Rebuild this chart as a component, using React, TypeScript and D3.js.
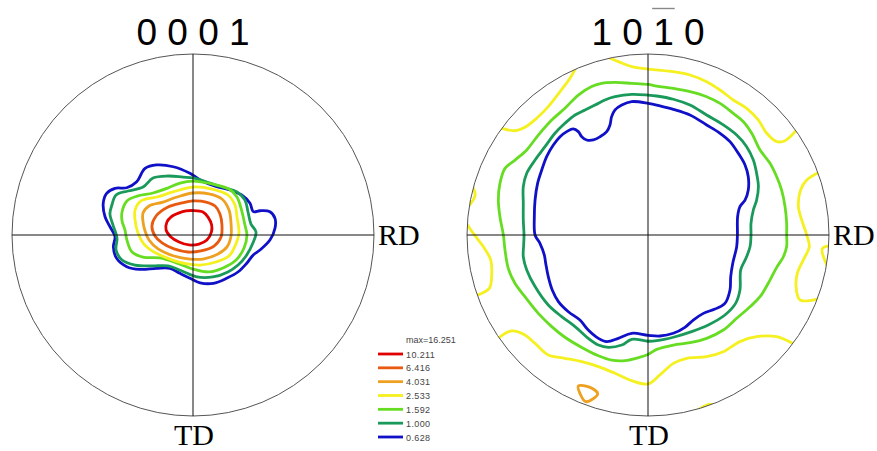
import { useEffect, useRef } from "react";
import * as d3 from "d3";

type Pt = [number, number];

// ---------------------------------------------------------------------------
// Contour levels (multiples of random density)
// ---------------------------------------------------------------------------

const MAX_DENSITY = 16.251;
const LEVELS = [10.211, 6.416, 4.031, 2.533, 1.592, 1.0, 0.628];
const LEVEL_COLORS = ["#e00000", "#e85a10", "#eea020", "#f5f020", "#66dd22", "#1a9a5a", "#1010c8"];

// Pole figure coordinates: x -> RD, y -> TD (down), unit circle = projection edge

// ---- {0001} basal ----
const BASAL_10211: Pt[] = [
  [0, -0.135], [0.055, -0.127], [0.083, -0.099], [0.103, -0.055], [0.102, -0.017],
  [0.077, 0.028], [0.033, 0.05], [-0.022, 0.055], [-0.077, 0.039], [-0.122, 0.011],
  [-0.149, -0.028], [-0.144, -0.072], [-0.122, -0.099], [-0.077, -0.122], [-0.039, -0.133],
];
const BASAL_6416: Pt[] = [
  [-0.227, -0.05], [-0.204, -0.105], [-0.138, -0.155], [-0.061, -0.177], [0, -0.188],
  [0.072, -0.182], [0.122, -0.16], [0.149, -0.116], [0.16, -0.055], [0.155, 0.011],
  [0.116, 0.061], [0.044, 0.088], [-0.028, 0.094], [-0.105, 0.077], [-0.171, 0.044],
  [-0.21, 0.006],
];
const BASAL_4031: Pt[] = [
  [-0.276, -0.072], [-0.276, -0.122], [-0.243, -0.16], [-0.166, -0.182], [-0.088, -0.21],
  [0, -0.232], [0.088, -0.227], [0.16, -0.199], [0.199, -0.138], [0.21, -0.066],
  [0.21, 0.006], [0.188, 0.066], [0.138, 0.105], [0.055, 0.133], [-0.017, 0.133],
  [-0.105, 0.116], [-0.193, 0.077], [-0.243, 0.028], [-0.265, -0.022],
];
const BASAL_2533: Pt[] = [
  [-0.32, -0.083], [-0.32, -0.138], [-0.287, -0.188], [-0.199, -0.21], [-0.11, -0.238],
  [0, -0.265], [0.105, -0.254], [0.193, -0.221], [0.232, -0.166], [0.243, -0.099],
  [0.254, -0.011], [0.232, 0.061], [0.199, 0.116], [0.127, 0.149], [0.039, 0.166],
  [-0.033, 0.16], [-0.127, 0.133], [-0.215, 0.094], [-0.271, 0.05], [-0.304, -0.011],
];
const BASAL_1592: Pt[] = [
  [-0.392, -0.127], [-0.365, -0.188], [-0.309, -0.215], [-0.221, -0.232], [-0.138, -0.26],
  [-0.072, -0.287], [0, -0.298], [0.105, -0.282], [0.199, -0.254], [0.243, -0.21],
  [0.271, -0.127], [0.287, -0.055], [0.298, 0], [0.282, 0.072], [0.238, 0.138],
  [0.166, 0.182], [0.088, 0.204], [0, 0.188], [-0.088, 0.155], [-0.182, 0.127],
  [-0.276, 0.122], [-0.337, 0.094], [-0.365, 0.028], [-0.376, -0.028], [-0.392, -0.077],
];
const BASAL_1000: Pt[] = [
  [-0.448, -0.166], [-0.425, -0.221], [-0.359, -0.243], [-0.276, -0.265], [-0.221, -0.315],
  [-0.138, -0.326], [-0.055, -0.32], [0, -0.315], [0.094, -0.287], [0.177, -0.26],
  [0.243, -0.238], [0.287, -0.193], [0.304, -0.127], [0.32, -0.061], [0.348, -0.017],
  [0.331, 0.044], [0.293, 0.116], [0.249, 0.166], [0.193, 0.204], [0.11, 0.232],
  [0.022, 0.232], [-0.061, 0.199], [-0.138, 0.171], [-0.227, 0.171], [-0.32, 0.166],
  [-0.392, 0.138], [-0.425, 0.083], [-0.42, 0.017], [-0.442, -0.055], [-0.459, -0.116],
];
const BASAL_0628: Pt[] = [
  [-0.265, -0.368], [-0.201, -0.387], [-0.109, -0.377], [-0.017, -0.341], [0.057, -0.294],
  [0.131, -0.267], [0.204, -0.249], [0.269, -0.221], [0.315, -0.175], [0.333, -0.129],
  [0.37, -0.134], [0.425, -0.129], [0.453, -0.092], [0.453, -0.037], [0.425, 0.028],
  [0.37, 0.083], [0.333, 0.11], [0.297, 0.156], [0.25, 0.203], [0.186, 0.239],
  [0.112, 0.267], [0.039, 0.264], [-0.017, 0.239], [-0.072, 0.212], [-0.127, 0.184],
  [-0.201, 0.184], [-0.293, 0.19], [-0.366, 0.175], [-0.422, 0.129], [-0.44, 0.065],
  [-0.431, 0.009], [-0.459, -0.046], [-0.486, -0.101], [-0.496, -0.175], [-0.477, -0.23],
  [-0.431, -0.258], [-0.366, -0.261], [-0.311, -0.294],
];

// ---- {10-10} prismatic ----
const PRISM_0628: Pt[] = [
  [0.002, -0.727], [-0.09, -0.737], [-0.145, -0.718], [-0.182, -0.691], [-0.201, -0.654],
  [-0.21, -0.608], [-0.228, -0.571], [-0.265, -0.543], [-0.302, -0.525], [-0.339, -0.525],
  [-0.366, -0.543], [-0.385, -0.571], [-0.413, -0.586], [-0.449, -0.571], [-0.486, -0.543],
  [-0.523, -0.497], [-0.56, -0.433], [-0.587, -0.359], [-0.61, -0.285], [-0.624, -0.193],
  [-0.628, -0.101], [-0.624, 0], [-0.597, 0.046], [-0.573, 0.11], [-0.565, 0.157],
  [-0.551, 0.23], [-0.529, 0.304], [-0.495, 0.368], [-0.44, 0.424], [-0.376, 0.47],
  [-0.33, 0.525], [-0.274, 0.571], [-0.228, 0.589], [-0.164, 0.571], [-0.09, 0.543],
  [0, 0.554], [0.066, 0.558], [0.14, 0.543], [0.204, 0.51], [0.25, 0.47],
  [0.306, 0.433], [0.37, 0.409], [0.425, 0.378], [0.453, 0.304], [0.457, 0.23],
  [0.468, 0.157], [0.49, 0.064], [0.494, 0], [0.495, -0.101], [0.508, -0.157],
  [0.536, -0.193], [0.554, -0.249], [0.554, -0.322], [0.536, -0.387], [0.499, -0.451],
  [0.453, -0.516], [0.398, -0.562], [0.324, -0.608], [0.232, -0.663], [0.14, -0.694],
  [0.066, -0.713],
];
const PRISM_1000: Pt[] = [
  [0, -0.773], [-0.09, -0.777], [-0.182, -0.764], [-0.238, -0.746], [-0.293, -0.718],
  [-0.348, -0.691], [-0.403, -0.663], [-0.459, -0.617], [-0.514, -0.562], [-0.569, -0.488],
  [-0.624, -0.414], [-0.67, -0.341], [-0.689, -0.267], [-0.689, -0.175], [-0.689, -0.083],
  [-0.685, 0], [-0.687, 0.055], [-0.689, 0.12], [-0.67, 0.193], [-0.624, 0.285],
  [-0.551, 0.387], [-0.477, 0.451], [-0.403, 0.506], [-0.33, 0.571], [-0.274, 0.608],
  [-0.219, 0.621], [-0.145, 0.608], [-0.09, 0.576], [0, 0.587], [0.048, 0.584],
  [0.14, 0.565], [0.241, 0.534], [0.333, 0.497], [0.425, 0.442], [0.484, 0.378],
  [0.508, 0.304], [0.512, 0.193], [0.541, 0.129], [0.564, 0.064], [0.569, 0],
  [0.569, -0.064], [0.582, -0.138], [0.6, -0.193], [0.61, -0.267], [0.6, -0.341],
  [0.582, -0.414], [0.545, -0.488], [0.49, -0.552], [0.416, -0.608], [0.324, -0.663],
  [0.232, -0.718], [0.14, -0.75], [0.048, -0.768],
];
const PRISM_1592: Pt[] = [
  [0, -0.832], [-0.09, -0.838], [-0.182, -0.843], [-0.256, -0.838], [-0.311, -0.82],
  [-0.385, -0.773], [-0.459, -0.7], [-0.532, -0.635], [-0.606, -0.552], [-0.67, -0.47],
  [-0.735, -0.414], [-0.79, -0.368], [-0.818, -0.285], [-0.827, -0.193], [-0.818, -0.101],
  [-0.799, 0], [-0.79, 0.083], [-0.772, 0.184], [-0.735, 0.267], [-0.68, 0.341],
  [-0.606, 0.433], [-0.532, 0.506], [-0.459, 0.565], [-0.366, 0.621], [-0.274, 0.667],
  [-0.201, 0.691], [-0.127, 0.694], [-0.053, 0.678], [0, 0.66], [0.048, 0.632],
  [0.14, 0.608], [0.232, 0.595], [0.324, 0.571], [0.416, 0.525], [0.49, 0.46],
  [0.564, 0.396], [0.619, 0.341], [0.674, 0.249], [0.711, 0.179], [0.748, 0.12],
  [0.766, 0.064], [0.766, 0], [0.766, -0.064], [0.757, -0.157], [0.738, -0.249],
  [0.711, -0.322], [0.674, -0.396], [0.619, -0.47], [0.573, -0.562], [0.527, -0.626],
  [0.471, -0.672], [0.398, -0.727], [0.324, -0.764], [0.232, -0.792], [0.14, -0.81],
  [0.048, -0.823],
];
// 2.533 level is cut by the projection edge into several pieces
const PRISM_2533_PIECES: Pt[][] = [
  [[-0.84, -0.6], [-0.735, -0.576], [-0.68, -0.595], [-0.615, -0.645], [-0.551, -0.709],
    [-0.486, -0.792], [-0.431, -0.866], [-0.39, -0.94]],
  [[-0.25, -0.995], [-0.164, -0.958], [-0.09, -0.93], [0, -0.917], [0.048, -0.912],
    [0.14, -0.902], [0.232, -0.884], [0.324, -0.847], [0.398, -0.801], [0.471, -0.746],
    [0.545, -0.7], [0.61, -0.635], [0.656, -0.562], [0.711, -0.516], [0.757, -0.521],
    [0.83, -0.59]],
  [[0.95, -0.35], [0.877, -0.304], [0.843, -0.249], [0.831, -0.157], [0.849, -0.083],
    [0.877, 0], [0.891, 0.064], [0.858, 0.138], [0.825, 0.212], [0.818, 0.285],
    [0.84, 0.359], [0.95, 0.35]],
  [[1.01, 0.06], [0.963, 0.075], [0.99, 0.17]],
  [[-1.02, -0.09], [-0.965, -0.009], [-0.91, 0.064], [-0.869, 0.138], [-0.864, 0.23],
    [-0.877, 0.295], [-0.95, 0.335]],
  [[-0.975, -0.28], [-0.955, -0.22], [-0.99, -0.16]],
  [[-0.84, 0.58], [-0.753, 0.53], [-0.68, 0.552], [-0.624, 0.599], [-0.551, 0.663],
    [-0.459, 0.681], [-0.366, 0.7], [-0.274, 0.727], [-0.182, 0.764], [-0.09, 0.805],
    [0, 0.823], [0.066, 0.773], [0.14, 0.709], [0.214, 0.681], [0.324, 0.672],
    [0.416, 0.645], [0.508, 0.589], [0.6, 0.562], [0.711, 0.562], [0.81, 0.605]],
  [[0.24, 0.99], [0.343, 0.934], [0.38, 0.95]],
];
const PRISM_4031: Pt[] = [
  [-0.385, 0.834], [-0.32, 0.842], [-0.278, 0.878], [-0.344, 0.921], [-0.376, 0.875],
];

// ---------------------------------------------------------------------------

type Contour = { level: number; pts: Pt[]; closed: boolean };

const FIGURES: { title: string[]; bar: number | null; contours: Contour[] }[] = [
  {
    title: ["0", "0", "0", "1"],
    bar: null,
    contours: [
      { level: 0.628, pts: BASAL_0628, closed: true },
      { level: 1.0, pts: BASAL_1000, closed: true },
      { level: 1.592, pts: BASAL_1592, closed: true },
      { level: 2.533, pts: BASAL_2533, closed: true },
      { level: 4.031, pts: BASAL_4031, closed: true },
      { level: 6.416, pts: BASAL_6416, closed: true },
      { level: 10.211, pts: BASAL_10211, closed: true },
    ],
  },
  {
    title: ["1", "0", "1", "0"],
    bar: 2,
    contours: [
      { level: 0.628, pts: PRISM_0628, closed: true },
      { level: 1.0, pts: PRISM_1000, closed: true },
      { level: 1.592, pts: PRISM_1592, closed: true },
      ...PRISM_2533_PIECES.map((pts) => ({ level: 2.533, pts, closed: false })),
      { level: 4.031, pts: PRISM_4031, closed: true },
    ],
  },
];

function colorFor(level: number): string {
  const i = LEVELS.indexOf(level);
  return i >= 0 ? LEVEL_COLORS[i] : "#666";
}

const W = 877;
const H = 451;

export default function App() {
  const svgRef = useRef<SVGSVGElement>(null);

  useEffect(() => {
    const svg = d3.select(svgRef.current);
    svg.selectAll("*").remove();

    const radius = 181;
    const centers = [
      { cx: 193, cy: 235 },
      { cx: 648, cy: 235 },
    ];

    FIGURES.forEach((fig, fi) => {
      const { cx, cy } = centers[fi];
      const x = d3.scaleLinear().domain([-1, 1]).range([cx - radius, cx + radius]);
      const y = d3.scaleLinear().domain([-1, 1]).range([cy - radius, cy + radius]);

      const clipId = `pf-clip-${fi}`;
      svg
        .append("defs")
        .append("clipPath")
        .attr("id", clipId)
        .append("circle")
        .attr("cx", x(0))
        .attr("cy", y(0))
        .attr("r", x(1) - x(0));

      const g = svg.append("g");

      // ---- Contours ----
      const closedLine = d3
        .line<Pt>()
        .x((d) => x(d[0]))
        .y((d) => y(d[1]))
        .curve(d3.curveCatmullRomClosed.alpha(0.5));
      const openLine = d3
        .line<Pt>()
        .x((d) => x(d[0]))
        .y((d) => y(d[1]))
        .curve(d3.curveCatmullRom.alpha(0.5));

      g.append("g")
        .attr("clip-path", `url(#${clipId})`)
        .selectAll("path")
        .data(fig.contours)
        .join("path")
        .attr("d", (d) => (d.closed ? closedLine(d.pts) : openLine(d.pts)))
        .attr("fill", "none")
        .attr("stroke", (d) => colorFor(d.level))
        .attr("stroke-width", 2.8)
        .attr("stroke-linejoin", "round");

      // ---- Projection circle & RD/TD axes ----
      g.append("circle")
        .attr("cx", x(0))
        .attr("cy", y(0))
        .attr("r", x(1) - x(0))
        .attr("fill", "none")
        .attr("stroke", "#555")
        .attr("stroke-width", 1);

      g.append("line")
        .attr("x1", x(-1))
        .attr("x2", x(1))
        .attr("y1", y(0))
        .attr("y2", y(0))
        .attr("stroke", "#111")
        .attr("stroke-width", 1);
      g.append("line")
        .attr("x1", x(0))
        .attr("x2", x(0))
        .attr("y1", y(-1))
        .attr("y2", y(1))
        .attr("stroke", "#111")
        .attr("stroke-width", 1);

      g.append("text")
        .attr("x", x(1) + 4)
        .attr("y", y(0) + 10)
        .attr("font-family", "'Liberation Serif', 'Times New Roman', serif")
        .attr("font-size", 30)
        .attr("fill", "#000")
        .text("RD");
      g.append("text")
        .attr("x", x(0) + 1)
        .attr("y", y(1) + 29)
        .attr("text-anchor", "middle")
        .attr("font-family", "'Liberation Serif', 'Times New Roman', serif")
        .attr("font-size", 30)
        .attr("fill", "#000")
        .text("TD");

      // ---- Miller-Bravais title ----
      const fs = 37;
      const digitW = 0.556 * fs;
      const spaceW = 0.278 * fs;
      const titleW = fig.title.length * digitW + (fig.title.length - 1) * spaceW;
      const tx0 = x(0) - titleW / 2;
      g.append("text")
        .attr("x", x(0))
        .attr("y", 45)
        .attr("text-anchor", "middle")
        .attr("font-family", "'Liberation Sans', Arial, sans-serif")
        .attr("font-size", fs)
        .attr("fill", "#000")
        .text(fig.title.join(" "));
      if (fig.bar !== null) {
        const bx = tx0 + fig.bar * (digitW + spaceW);
        g.append("line")
          .attr("x1", bx - 1)
          .attr("x2", bx + digitW + 1)
          .attr("y1", 8.5)
          .attr("y2", 8.5)
          .attr("stroke", "#888")
          .attr("stroke-width", 1.4);
      }
    });

    // ---- Legend ----
    const legendY = d3
      .scalePoint<number>()
      .domain(LEVELS)
      .range([354, 437]);

    const legend = svg.append("g");
    legend
      .append("text")
      .attr("x", 406)
      .attr("y", 343)
      .attr("font-family", "'Liberation Sans', Arial, sans-serif")
      .attr("font-size", 9)
      .attr("fill", "#444")
      .text(`max=${MAX_DENSITY.toFixed(3)}`);

    const rows = legend
      .selectAll("g.row")
      .data(LEVELS)
      .join("g")
      .attr("class", "row");
    rows
      .append("line")
      .attr("x1", 378)
      .attr("x2", 403)
      .attr("y1", (d) => legendY(d)!)
      .attr("y2", (d) => legendY(d)!)
      .attr("stroke", (d) => colorFor(d))
      .attr("stroke-width", 2.8);
    rows
      .append("text")
      .attr("x", 406)
      .attr("y", (d) => legendY(d)! + 3.5)
      .attr("font-family", "'Liberation Sans', Arial, sans-serif")
      .attr("font-size", 9)
      .attr("letter-spacing", 0.4)
      .attr("fill", "#444")
      .text((d) => d.toFixed(3));
  }, []);

  return (
    <svg
      ref={svgRef}
      width={W}
      height={H}
      style={{ position: "absolute", left: 0, top: 0, background: "#fff" }}
    />
  );
}
